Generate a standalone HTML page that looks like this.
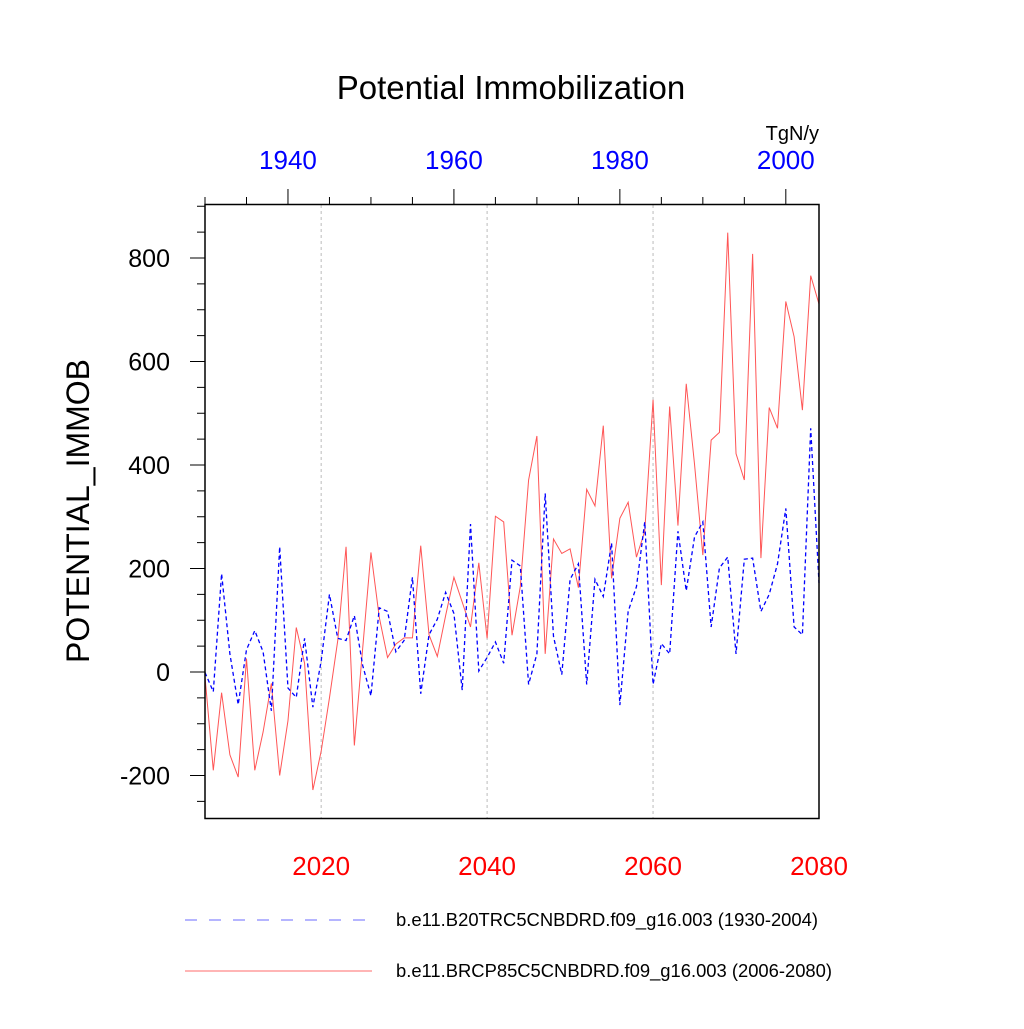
<!DOCTYPE html>
<html><head><meta charset="utf-8"><style>
body{margin:0;background:#fff}
svg text{font-family:"Liberation Sans",sans-serif}
</style></head><body>
<svg id="chart" width="1024" height="1024" xmlns="http://www.w3.org/2000/svg">
<text x="511" y="99" font-size="33" text-anchor="middle">Potential Immobilization</text>
<text x="819" y="140" font-size="20" text-anchor="end">TgN/y</text>
<text transform="translate(89,511) rotate(-90)" font-size="32" text-anchor="middle">POTENTIAL_IMMOB</text>
<g id="grid"></g><g id="axes"></g><g id="series"></g>
<rect x="205" y="204.5" width="614" height="614" fill="none" stroke="#000" stroke-width="1.5"/>
<g>
<line x1="185" y1="920" x2="372" y2="920" stroke="#6b6bff" stroke-width="1" stroke-dasharray="12,12"/>
<text x="396" y="926" font-size="18.4" textLength="422">b.e11.B20TRC5CNBDRD.f09_g16.003 (1930-2004)</text>
<line x1="185" y1="971" x2="372" y2="971" stroke="#ff6b6b" stroke-width="1"/>
<text x="396" y="977" font-size="18.4" textLength="436">b.e11.BRCP85C5CNBDRD.f09_g16.003 (2006-2080)</text>
</g>
</svg>
<script>
const redYears0 = 2006;
const blueYears0 = 1930;
const redValues = [-9,-190,-40,-160,-203,26,-190,-116,-22,-200,-94,86,17,-228,-153,-50,61,242,-142,45,231,106,28,54,66,66,244,72,30,109,183,135,87,211,65,301,290,71,165,371,456,35,257,229,238,163,353,321,476,181,297,328,222,272,526,168,513,283,557,401,226,448,463,849,422,371,808,220,511,471,716,648,506,766,711];
const blueValues = [-1,-38,190,35,-63,43,80,39,-75,242,-31,-49,65,-68,21,150,65,61,109,13,-46,124,117,39,61,183,-42,72,102,154,113,-35,286,2,28,58,17,216,205,-24,35,345,69,-5,179,209,-24,179,146,249,-64,117,165,290,-24,55,35,272,157,261,290,87,201,222,35,218,220,117,150,209,316,87,72,471,172];
const yTicks = [-200,0,200,400,600,800];
const bottomTicks = [2020,2040,2060,2080];
const topTicks = [1940,1960,1980,2000];
const NS='http://www.w3.org/2000/svg';
const xB = y => 205 + (y-2006)*614/74;
const xT = y => 205 + (y-1930)*614/74;
const yS = v => 672 - v*0.5175;
function mk(tag, attrs, parent){const e=document.createElementNS(NS,tag);for(const k in attrs)e.setAttribute(k,attrs[k]);parent.appendChild(e);return e;}
const grid=document.getElementById('grid'), axes=document.getElementById('axes'), series=document.getElementById('series');
[2020,2040,2060].forEach(y=>{const l=mk('line',{x1:xB(y),x2:xB(y),y1:205,y2:818,stroke:'#bbb','stroke-width':1,'stroke-dasharray':'3,3'},grid);

});
for(let v=-250;v<=900;v+=50){const maj=v%200===0;const l=mk('line',{x1:maj?190:197,x2:205,y1:yS(v),y2:yS(v),stroke:'#000','stroke-width':1},axes);

}
yTicks.forEach(v=>{const t=mk('text',{x:170,y:yS(v)+9,'font-size':25,'text-anchor':'end'},axes);t.textContent=v;

});
for(let y=1930;y<=2004;y+=5){const maj=y%20===0;const l=mk('line',{x1:xT(y),x2:xT(y),y1:maj?189:197,y2:205,stroke:'#000','stroke-width':1},axes);

}
topTicks.forEach(y=>{const t=mk('text',{x:xT(y),y:169,'font-size':26,'text-anchor':'middle',fill:'#0000ff'},axes);t.textContent=y;

});
bottomTicks.forEach(y=>{const t=mk('text',{x:xB(y),y:875,'font-size':26,'text-anchor':'middle',fill:'#ff0000'},axes);t.textContent=y;

});
const rp=mk('polyline',{points:redValues.map((v,i)=>xB(redYears0+i)+','+yS(v)).join(' '),fill:'none',stroke:'#ff5555','stroke-width':1},series);


const bp=mk('polyline',{points:blueValues.map((v,i)=>xT(blueYears0+i)+','+yS(v)).join(' '),fill:'none',stroke:'#0000ff','stroke-width':1.3,'stroke-dasharray':'4,3'},series);


</script>
</body></html>
